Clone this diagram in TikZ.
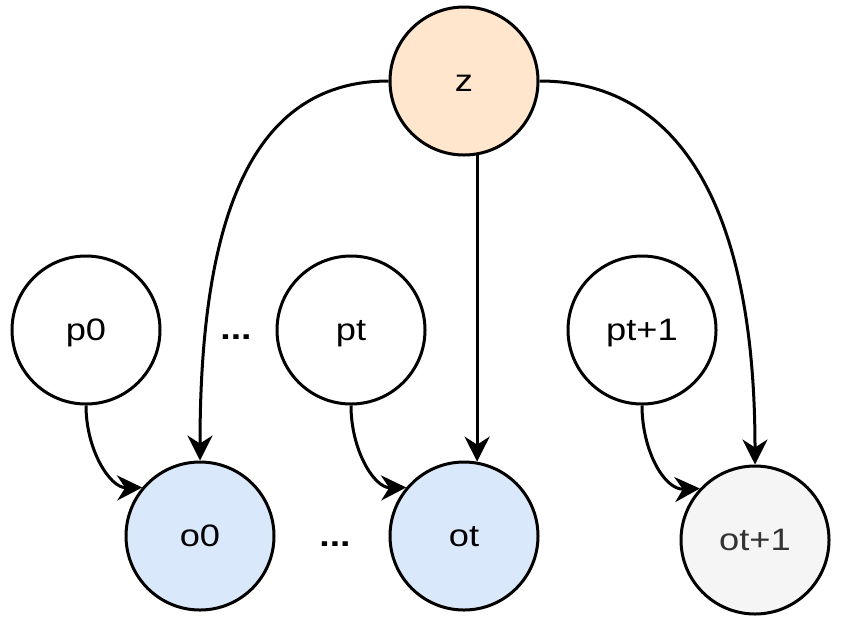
\documentclass[tikz,border=0pt]{standalone}
\usepackage{fontspec}
\setmainfont{Liberation Sans}[FakeStretch=1.17]
\usetikzlibrary{arrows.meta}
\definecolor{zfill}{HTML}{FFE6CC}
\definecolor{ofill}{HTML}{DAE8FC}
\definecolor{gfill}{HTML}{F5F5F5}
\definecolor{gtext}{HTML}{333333}
\tikzset{
  circnode/.style={circle, draw=black, line width=3pt, minimum size=148pt, inner sep=0pt,
    font=\fontsize{31pt}{37pt}\selectfont, text height=25pt, text depth=5pt},
  dotsnode/.style={font=\fontsize{32pt}{38pt}\selectfont\bfseries, anchor=base, inner sep=0pt},
  arr/.style={line width=3pt, -{Stealth[length=25pt, width=25pt, inset=8pt]}},
}
\begin{document}
\begin{tikzpicture}[x=1pt, y=-1pt]
\useasboundingbox (0,0) rectangle (842,633);
\node[circnode, fill=zfill] (z) at (464,81) {z};
\node[circnode, fill=white] (p0) at (86,330) {p0};
\node[circnode, fill=white] (pt) at (351,330) {pt};
\node[circnode, fill=white] (pt1) at (642,330) {pt+1};
\node[circnode, fill=ofill] (o0) at (200,536) {o0};
\node[circnode, fill=ofill] (ot) at (464,536) {ot};
\node[circnode, fill=gfill, text=gtext] (ot1) at (755,540) {ot+1};
\node[dotsnode] (d1) at (236,339.5) {...};
\node[dotsnode] (d2) at (335,546.5) {...};
\draw[arr] (z.west) .. controls (260,81) and (200,200) .. (o0.north);
\draw[arr] (z.-80) -- (ot.80);
\draw[arr] (z.east) .. controls (675,81) and (755,200) .. (ot1.north);
\draw[arr] (p0.south) .. controls (86,450) and (110,488) .. (o0.140);
\draw[arr] (pt.south) .. controls (351,450) and (374,488) .. (ot.140);
\draw[arr] (pt1.south) .. controls (642,450) and (664,490) .. (ot1.137);
\end{tikzpicture}
\end{document}
